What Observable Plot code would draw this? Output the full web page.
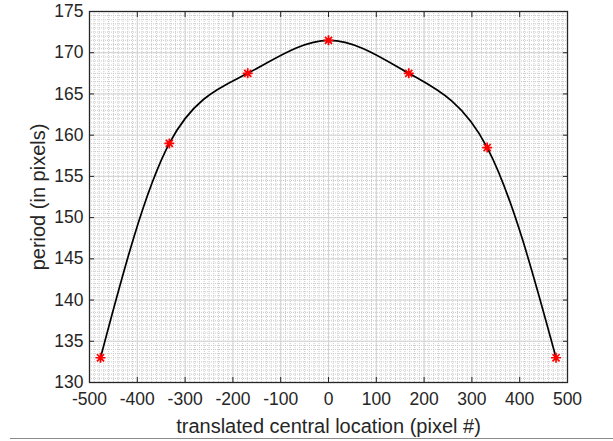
<!DOCTYPE html>
<html>
<head>
<meta charset="utf-8">
<script src="https://cdn.jsdelivr.net/npm/d3@7"></script>
<script src="https://cdn.jsdelivr.net/npm/@observablehq/plot@0.6"></script>
<style>
  html, body { margin: 0; padding: 0; background: #fff; }
  #wrap { position: relative; width: 613px; height: 441px; overflow: hidden; }
  #rule { position: absolute; left: 10px; right: 0; top: 438px; border-top: 1px solid #8a8a8a; }
</style>
</head>
<body>
<div id="wrap"><div id="chart"></div><div id="rule"></div></div>
<script>
const locations = [-477, -333, -169, 0, 168, 332, 476];
const periods = [133.0, 159.0, 167.5, 171.5, 167.5, 158.5, 133.0];
const xTicks = [-500, -400, -300, -200, -100, 0, 100, 200, 300, 400, 500];
const yTicks = [130, 135, 140, 145, 150, 155, 160, 165, 170, 175];
const xLabel = "translated central location (pixel #)";
const yLabel = "period (in pixels)";

const data = locations.map((x, i) => ({x, y: periods[i]}));
const xMinor = d3.range(-500, 501, 10);
const yMinor = d3.range(130, 175.01, 0.5);

const asterisk = {
  draw(context, size) {
    const r = Math.sqrt(size / Math.PI);
    const d = r * Math.SQRT1_2;
    context.moveTo(-r, 0); context.lineTo(r, 0);
    context.moveTo(0, -r); context.lineTo(0, r);
    context.moveTo(-d, -d); context.lineTo(d, d);
    context.moveTo(-d, d); context.lineTo(d, -d);
  }
};

const font = "'Liberation Sans', Arial, Helvetica, sans-serif";
const ink = "#262626";
const fmt = d => String(d);

const plot = Plot.plot({
  width: 613,
  height: 441,
  marginLeft: 89,
  marginRight: 46,
  marginTop: 11,
  marginBottom: 59,
  style: {fontFamily: font, fontSize: "17.5px", color: ink, background: "#fff"},
  x: {domain: [-500, 500]},
  y: {domain: [130, 175]},
  marks: [
    Plot.ruleX(xMinor, {stroke: "#cbcbcb", strokeDasharray: "1,1", strokeWidth: 1}),
    Plot.ruleY(yMinor, {stroke: "#cbcbcb", strokeDasharray: "1,1", strokeWidth: 1}),
    Plot.ruleX(xTicks, {stroke: "#d4d4d4", strokeWidth: 1}),
    Plot.ruleY(yTicks, {stroke: "#d4d4d4", strokeWidth: 1}),
    Plot.line(data, {x: "x", y: "y", curve: "natural", stroke: "#000", strokeWidth: 1.7}),
    Plot.dot(data, {x: "x", y: "y", symbol: asterisk, r: 5, stroke: "#ff0000", strokeWidth: 1.7, fill: "none"}),
    Plot.frame({stroke: ink, strokeWidth: 1.3}),
    Plot.axisX(xTicks, {anchor: "bottom", tickSize: -5, text: null, label: null, stroke: ink}),
    Plot.axisX(xTicks, {anchor: "top", tickSize: -5, text: null, label: null, stroke: ink}),
    Plot.axisY(yTicks, {anchor: "left", tickSize: -5, text: null, label: null, stroke: ink}),
    Plot.axisY(yTicks, {anchor: "right", tickSize: -5, text: null, label: null, stroke: ink}),
    Plot.axisX(xTicks, {anchor: "bottom", tickSize: 0, tickPadding: 10, tickFormat: fmt, fontSize: 17.5, fill: ink,
      label: null}),
    Plot.axisY(yTicks, {anchor: "left", tickSize: 0, tickPadding: 6, tickFormat: fmt, fontSize: 17.5, fill: ink,
      label: null}),
    Plot.axisX(xTicks, {anchor: "bottom", tickSize: 0, text: null, fontSize: 20, fill: ink,
      label: xLabel, labelAnchor: "center", labelArrow: "none", labelOffset: 50}),
    Plot.axisY(yTicks, {anchor: "left", tickSize: 0, text: null, fontSize: 20, fill: ink,
      label: yLabel, labelAnchor: "center", labelArrow: "none", labelOffset: 59})
  ]
});
document.getElementById("chart").appendChild(plot);
</script>
</body>
</html>
